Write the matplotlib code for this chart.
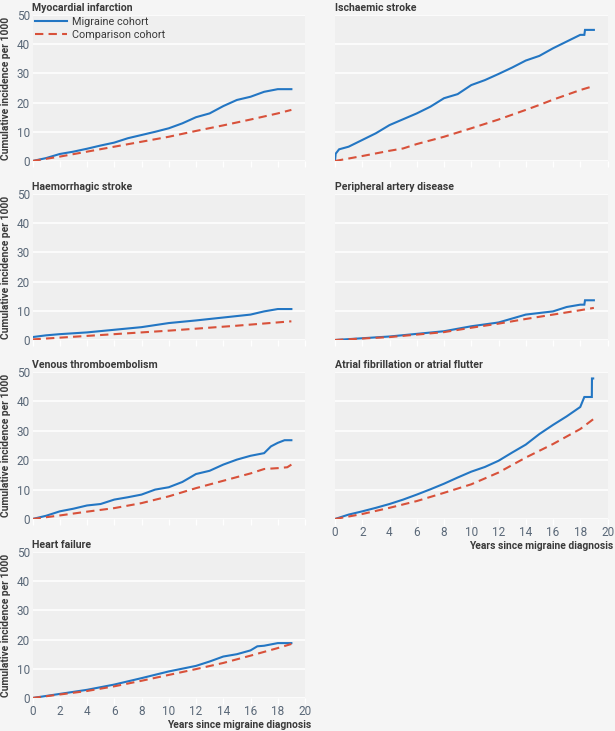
import matplotlib
matplotlib.use("Agg")
import matplotlib.pyplot as plt

# ---------------- data ----------------
mi_mig_x = [0, 1, 2, 3, 4, 5, 6, 7, 8, 9, 10, 11, 12, 13, 14, 15, 16, 17, 18, 19]
mi_mig_y = [0, 1.0, 2.4, 3.2, 4.2, 5.3, 6.3, 7.8, 8.9, 10.0, 11.2, 12.9, 15.0, 16.3, 18.8, 20.9, 22.0, 23.7, 24.6, 24.6]
mi_cmp_x = [0, 2, 4, 6, 8, 10, 12, 14, 16, 18, 19]
mi_cmp_y = [0, 1.5, 3.2, 4.9, 6.6, 8.3, 10.3, 12.2, 14.2, 16.3, 17.5]

is_mig_x = [0, 0.05, 0.3, 1, 2, 3, 4, 5, 6, 7, 8, 9, 10, 11, 12, 13, 14, 15, 16, 17, 18, 18.3, 18.35, 19]
is_mig_y = [0, 2.5, 4.0, 4.9, 7.2, 9.5, 12.3, 14.3, 16.3, 18.6, 21.5, 22.9, 26.0, 27.7, 29.8, 32.0, 34.4, 36.0, 38.6, 40.9, 43.2, 43.2, 44.9, 44.9]
is_cmp_x = [0, 2, 4, 5, 6, 8, 10, 12, 14, 15, 16, 18, 19]
is_cmp_y = [0, 1.7, 3.5, 4.3, 5.8, 8.3, 11.2, 14.2, 17.5, 19.2, 21.0, 24.3, 25.7]

hs_mig_x = [0, 1, 2, 4, 6, 8, 10, 12, 14, 16, 17, 18, 19]
hs_mig_y = [1.0, 1.6, 2.0, 2.6, 3.5, 4.4, 5.8, 6.7, 7.7, 8.7, 9.8, 10.6, 10.6]
hs_cmp_x = [0, 5, 10, 15, 19]
hs_cmp_y = [0.2, 1.7, 3.2, 4.9, 6.4]

pad_mig_x = [0, 4, 8, 10, 12, 14, 16, 17, 18, 18.3, 18.35, 19]
pad_mig_y = [0, 1.2, 3.0, 4.7, 6.0, 8.7, 9.8, 11.3, 12.1, 12.1, 13.6, 13.6]
pad_cmp_x = [0, 4, 8, 10, 12, 14, 16, 18, 19]
pad_cmp_y = [0, 1.0, 2.7, 4.2, 5.6, 7.2, 8.7, 10.2, 11.0]

vte_mig_x = [0, 1, 2, 3, 4, 5, 6, 7, 8, 9, 10, 11, 12, 13, 14, 15, 16, 17, 17.5, 18, 18.5, 19]
vte_mig_y = [0, 1.1, 2.6, 3.5, 4.6, 5.1, 6.6, 7.4, 8.3, 10.0, 10.8, 12.6, 15.3, 16.4, 18.5, 20.2, 21.5, 22.4, 24.7, 25.9, 26.8, 26.8]
vte_cmp_x = [0, 2, 4, 6, 8, 10, 12, 14, 16, 17, 18, 18.7, 19]
vte_cmp_y = [0, 1.2, 2.5, 3.7, 5.4, 7.7, 10.5, 13.0, 15.5, 17.0, 17.3, 17.6, 18.5]

af_mig_x = [0, 1, 2, 3, 4, 5, 6, 7, 8, 9, 10, 11, 12, 13, 14, 15, 16, 17, 18, 18.3, 18.85, 18.86, 18.95]
af_mig_y = [0, 1.5, 2.6, 3.8, 5.1, 6.6, 8.3, 10.1, 12.0, 14.1, 16.1, 17.7, 19.8, 22.6, 25.3, 28.9, 32.0, 34.9, 38.1, 41.5, 41.5, 47.8, 47.8]
af_cmp_x = [0, 2, 4, 6, 8, 10, 12, 14, 16, 18, 19]
af_cmp_y = [0, 1.7, 3.8, 6.1, 8.9, 11.8, 15.8, 20.9, 25.5, 30.6, 34.1]

hf_mig_x = [0, 2, 4, 6, 8, 10, 12, 13, 14, 15, 16, 16.5, 17, 18, 19]
hf_mig_y = [0, 1.4, 2.8, 4.6, 6.8, 9.1, 11.0, 12.5, 14.2, 15.0, 16.3, 17.7, 17.9, 18.8, 18.8]
hf_cmp_x = [0, 2, 4, 6, 8, 10, 12, 14, 16, 18, 19]
hf_cmp_y = [0, 1.2, 2.4, 4.0, 5.9, 7.9, 9.9, 12.0, 14.5, 17.1, 18.5]

titles = ["Myocardial infarction", "Ischaemic stroke", "Haemorrhagic stroke",
          "Peripheral artery disease", "Venous thromboembolism",
          "Atrial fibrillation or atrial flutter", "Heart failure"]
series = [
    (mi_mig_x, mi_mig_y, mi_cmp_x, mi_cmp_y),
    (is_mig_x, is_mig_y, is_cmp_x, is_cmp_y),
    (hs_mig_x, hs_mig_y, hs_cmp_x, hs_cmp_y),
    (pad_mig_x, pad_mig_y, pad_cmp_x, pad_cmp_y),
    (vte_mig_x, vte_mig_y, vte_cmp_x, vte_cmp_y),
    (af_mig_x, af_mig_y, af_cmp_x, af_cmp_y),
    (hf_mig_x, hf_mig_y, hf_cmp_x, hf_cmp_y),
]
x_ticks = [0, 2, 4, 6, 8, 10, 12, 14, 16, 18, 20]
y_ticks = [0, 10, 20, 30, 40, 50]
legend_labels = ["Migraine cohort", "Comparison cohort"]
y_label = "Cumulative incidence per 1000"
x_label = "Years since migraine diagnosis"

# ---------------- style ----------------
plt.rcParams["font.family"] = ["Roboto", "DejaVu Sans"]
W, H = 615, 731
BG = "#f5f5f5"
AXBG = "#efefef"
BLUE = "#2376c3"
RED = "#d8513a"
TICKC = "#5a6878"
TITLEC = "#3a3a3a"

fig = plt.figure(figsize=(W / 100, H / 100), dpi=100, facecolor=BG)

cols_px = [(32.5, 305), (335, 607.5)]
rows_px = [(15, 161), (194, 340), (372, 519), (552, 698)]

for i, (title, (mx, my, cx, cy)) in enumerate(zip(titles, series)):
    r, c = divmod(i, 2)
    x0, x1 = cols_px[c]
    t, b = rows_px[r]
    ax = fig.add_axes([x0 / W, 1 - b / H, (x1 - x0) / W, (b - t) / H])
    ax.set_facecolor(AXBG)
    for s in ax.spines.values():
        s.set_visible(False)
    ax.set_xlim(0, 20)
    ax.set_ylim(0, 50)
    ax.set_yticks(y_ticks)
    ax.set_xticks(x_ticks)
    ax.grid(axis="y", color="white", linewidth=1.1)
    ax.set_axisbelow(True)
    ax.tick_params(axis="y", length=0, labelsize=8.5, labelcolor=TICKC, pad=2)
    ax.tick_params(axis="x", length=4, color="white", width=1,
                   labelsize=8.5, labelcolor=TICKC, pad=1)
    if c == 1:
        ax.set_yticklabels([])
    show_x = (i == 5 or i == 6)
    if not show_x:
        ax.set_xticklabels([])
    l1, = ax.plot(mx, my, color=BLUE, linewidth=1.5, solid_joinstyle="miter")
    l2, = ax.plot(cx, cy, color=RED, linewidth=1.5, linestyle=(0, (4, 2.5)))
    ax.text(0, 1.015, title, transform=ax.transAxes, fontsize=7.6,
            fontweight="bold", color=TITLEC, ha="left", va="bottom")
    if c == 0:
        ax.set_ylabel(y_label, fontsize=7.4, fontweight="bold", color=TITLEC, labelpad=4)
    if show_x:
        ax.text(1.022, -0.15, x_label, transform=ax.transAxes, fontsize=7.4,
                fontweight="bold", color=TITLEC, ha="right", va="top")
    if i == 0:
        ax.legend([l1, l2], legend_labels, loc="upper left", frameon=False,
                  fontsize=7.8, handlelength=3.0, handletextpad=0.4,
                  borderaxespad=0.0, borderpad=0.2, labelspacing=0.25,
                  labelcolor=TITLEC, bbox_to_anchor=(0.0, 1.0))

fig.savefig("out.png", dpi=100, facecolor=BG)
